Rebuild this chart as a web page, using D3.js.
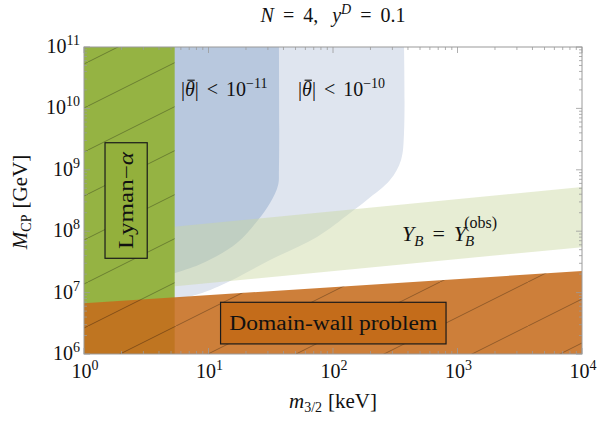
<!DOCTYPE html>
<html>
<head>
<meta charset="utf-8">
<script src="https://cdn.jsdelivr.net/npm/d3@7"></script>
<style>
  body { margin: 0; background: #fff; }
  text { font-family: "Liberation Serif", "DejaVu Serif", serif; fill: #111; }
</style>
</head>
<body>
<script>
// axes
var xDomain = [1, 1e4];
var yDomain = [1e6, 1e11];
var xExponents = [0, 1, 2, 3, 4];
var yExponents = [6, 7, 8, 9, 10, 11];

// Lyman-alpha bound on m_3/2 [keV]
var lymanCut = 5.35;

// domain-wall problem: upper edge of the excluded band [m, M]
var domainWallTop = [[1, 6.7e6], [1e4, 2.25e7]];

// Y_B = Y_B(obs) band, upper and lower edges
var ybUpper = [[1, 8.5e7], [1e4, 5.25e8]];
var ybLower = [[1, 9.1e6], [1e4, 5.5e7]];

// |theta| < 1e-11 boundary (right / lower edge)
var theta11 = [[36.8, 1e11], [36.8, 1e9], [36.2, 5.6e8], [31.2, 2.88e8], [25, 1.52e8],
               [16.9, 6.4e7], [9.03, 3.03e7], [5.38, 2.08e7], [1, 7.6e6]];
// |theta| < 1e-10 boundary
var theta10 = [[372, 1e11], [372, 4e9], [352, 1.45e9], [287, 6.8e8], [187, 3.22e8],
               [137, 1.98e8], [74.4, 8.05e7], [31.2, 3.4e7], [14.9, 1.55e7],
               [8.1, 9.3e6], [1, 3.6e6]];

var width = 599, height = 429;
var svg = d3.select("body").append("svg")
    .attr("width", width)
    .attr("height", height);

var x = d3.scaleLog().domain(xDomain).range([84, 582]);
var y = d3.scaleLog().domain(yDomain).range([354, 47]);

var defs = svg.append("defs");
defs.append("clipPath").attr("id", "plotclip")
  .append("rect")
    .attr("x", x(xDomain[0])).attr("y", y(yDomain[1]))
    .attr("width", x(xDomain[1]) - x(xDomain[0]))
    .attr("height", y(yDomain[0]) - y(yDomain[1]));

// hatch lines for excluded regions
var pat = defs.append("pattern")
    .attr("id", "hatch")
    .attr("patternUnits", "userSpaceOnUse")
    .attr("x", 0).attr("y", 18)
    .attr("width", 88).attr("height", 44);
pat.append("line")
    .attr("x1", -2).attr("y1", 45).attr("x2", 90).attr("y2", -1)
    .style("stroke", "rgba(0,0,0,0.36)")
    .style("stroke-width", 0.8);

var plot = svg.append("g").attr("clip-path", "url(#plotclip)");

var line = d3.line()
    .x(function(d) { return x(d[0]); })
    .y(function(d) { return y(d[1]); });
var curve = d3.line()
    .curve(d3.curveCatmullRom)
    .x(function(d) { return x(d[0]); })
    .y(function(d) { return y(d[1]); });

// closes a boundary curve into the top-left corner
function regionPath(pts) {
    var p = curve(pts);
    return p + "L" + x(xDomain[0]) + "," + y(yDomain[0]) +
        "L" + x(xDomain[0]) + "," + y(yDomain[1]) + "Z";
}

plot.append("path")
    .attr("d", regionPath(theta10))
    .style("fill", "#dfe5ef");
plot.append("path")
    .attr("d", regionPath(theta11))
    .style("fill", "#b8c8de");

// Y_B band
plot.append("path")
    .attr("d", line(ybUpper.concat(ybLower.slice().reverse())) + "Z")
    .style("fill", "#c9d6a0")
    .style("fill-opacity", 0.45);

// Lyman-alpha
plot.append("rect")
    .attr("x", x(xDomain[0]))
    .attr("y", y(yDomain[1]))
    .attr("width", x(lymanCut) - x(xDomain[0]))
    .attr("height", y(yDomain[0]) - y(yDomain[1]))
    .style("fill", "#95b343");
plot.append("rect")
    .attr("x", x(xDomain[0]))
    .attr("y", y(yDomain[1]))
    .attr("width", x(lymanCut) - x(xDomain[0]))
    .attr("height", y(yDomain[0]) - y(yDomain[1]))
    .style("fill", "url(#hatch)");

// domain-wall
var dwPts = domainWallTop.concat([[xDomain[1], yDomain[0]], [xDomain[0], yDomain[0]]]);
plot.append("path")
    .attr("d", line(dwPts) + "Z")
    .style("fill", "#c66c1d")
    .style("fill-opacity", 0.87);
plot.append("path")
    .attr("d", line(dwPts) + "Z")
    .style("fill", "url(#hatch)");

// frame and ticks
var frameColor = "#9a9a9a";
svg.append("rect")
    .attr("x", x(xDomain[0])).attr("y", y(yDomain[1]))
    .attr("width", x(xDomain[1]) - x(xDomain[0]))
    .attr("height", y(yDomain[0]) - y(yDomain[1]))
    .style("fill", "none")
    .style("stroke", frameColor)
    .style("stroke-width", 1);

var xMajor = xExponents.map(function(e) { return Math.pow(10, e); });
var yMajor = yExponents.map(function(e) { return Math.pow(10, e); });
function minors(exps) {
    var out = [];
    exps.slice(0, -1).forEach(function(e) {
        d3.range(2, 10).forEach(function(k) { out.push(k * Math.pow(10, e)); });
    });
    return out;
}
var xMinor = minors(xExponents), yMinor = minors(yExponents);

var ticks = svg.append("g").style("stroke", frameColor).style("stroke-width", 0.8);
function xTicks(vals, len) {
    vals.forEach(function(v) {
        ticks.append("line").attr("x1", x(v)).attr("x2", x(v))
            .attr("y1", y(yDomain[0])).attr("y2", y(yDomain[0]) - len);
        ticks.append("line").attr("x1", x(v)).attr("x2", x(v))
            .attr("y1", y(yDomain[1])).attr("y2", y(yDomain[1]) + len);
    });
}
function yTicks(vals, len) {
    vals.forEach(function(v) {
        ticks.append("line").attr("y1", y(v)).attr("y2", y(v))
            .attr("x1", x(xDomain[0])).attr("x2", x(xDomain[0]) + len);
        ticks.append("line").attr("y1", y(v)).attr("y2", y(v))
            .attr("x1", x(xDomain[1])).attr("x2", x(xDomain[1]) - len);
    });
}
xTicks(xMajor, 6); xTicks(xMinor, 3);
yTicks(yMajor, 6); yTicks(yMinor, 3);

// tick labels
function powLabel(sel, e) {
    sel.append("tspan").text("10");
    sel.append("tspan").attr("dy", -8).style("font-size", "14px").text(e);
}
xExponents.forEach(function(e) {
    var t = svg.append("text")
        .attr("x", x(Math.pow(10, e)) + 1)
        .attr("y", 378)
        .attr("text-anchor", "middle")
        .style("font-size", "20px");
    powLabel(t, e);
});
yExponents.forEach(function(e) {
    var t = svg.append("text")
        .attr("x", 80)
        .attr("y", y(Math.pow(10, e)) + 6)
        .attr("text-anchor", "end")
        .style("font-size", "20px");
    powLabel(t, e);
});

// title
var title = svg.append("text")
    .attr("x", 333).attr("y", 22)
    .attr("text-anchor", "middle")
    .style("font-size", "20px");
title.append("tspan").style("font-style", "italic").text("N");
title.append("tspan").attr("dx", 9).text("=");
title.append("tspan").attr("dx", 9).text("4,");
title.append("tspan").attr("dx", 14).style("font-style", "italic").text("y");
title.append("tspan").attr("dy", -8).style("font-size", "14px").style("font-style", "italic").text("D");
title.append("tspan").attr("dy", 8).attr("dx", 9).text("=");
title.append("tspan").attr("dx", 9).text("0.1");

// axis labels
var xl = svg.append("text")
    .attr("x", 333).attr("y", 408)
    .attr("text-anchor", "middle")
    .style("font-size", "21px");
xl.append("tspan").style("font-style", "italic").text("m");
xl.append("tspan").attr("dy", 4).style("font-size", "14px").text("3/2");
xl.append("tspan").attr("dy", -4).attr("dx", 6).text("[keV]");

var yl = svg.append("text")
    .attr("transform", "translate(27,202) rotate(-90)")
    .attr("text-anchor", "middle")
    .style("font-size", "21px");
yl.append("tspan").style("font-style", "italic").text("M");
yl.append("tspan").attr("dy", 4).style("font-size", "14px").text("CP");
yl.append("tspan").attr("dy", -4).attr("dx", 6).text("[GeV]");

// region annotations
function thetaLabel(xv, yv, e) {
    var t = svg.append("text")
        .attr("x", x(xv)).attr("y", y(yv))
        .style("font-size", "20px");
    t.append("tspan").text("|");
    t.append("tspan").style("font-style", "italic").text("\u03B8");
    t.append("tspan").text("|");
    t.append("tspan").attr("dx", 8).text("<");
    t.append("tspan").attr("dx", 8).text("10");
    t.append("tspan").attr("dy", -8).style("font-size", "14px").text("\u2212" + e);
    // bar over theta
    var b = t.node().getExtentOfChar(1);
    svg.append("line")
        .attr("x1", b.x + 2.5).attr("x2", b.x + b.width)
        .attr("y1", b.y + 2).attr("y2", b.y + 2)
        .style("stroke", "#111")
        .style("stroke-width", 1.1);
}
thetaLabel(6.0, 1.58e10, 11);
thetaLabel(52.4, 1.58e10, 10);

var yb = svg.append("text")
    .attr("x", x(358)).attr("y", y(6.9e7))
    .style("font-size", "22px");
yb.append("tspan").style("font-style", "italic").text("Y");
yb.append("tspan").attr("dy", 5).style("font-size", "15px").style("font-style", "italic").text("B");
yb.append("tspan").attr("dy", -5).attr("dx", 9).text("=");
yb.append("tspan").attr("dx", 9).style("font-style", "italic").text("Y");
yb.append("tspan").attr("dy", 5).attr("dx", -1).style("font-size", "15px").style("font-style", "italic").text("B");
yb.append("tspan").attr("dy", -18).attr("dx", -10).style("font-size", "16px").text("(obs)");

// boxed labels
var lyBox = { x0: 1.475, x1: 3.22, y0: 3.62e7, y1: 2.76e9 };
svg.append("rect")
    .attr("x", x(lyBox.x0)).attr("y", y(lyBox.y1))
    .attr("width", x(lyBox.x1) - x(lyBox.x0))
    .attr("height", y(lyBox.y0) - y(lyBox.y1))
    .style("fill", "#93b03c")
    .style("stroke", "#1a1a1a")
    .style("stroke-width", 1.2);
var lyCx = (x(lyBox.x0) + x(lyBox.x1)) / 2, lyCy = (y(lyBox.y0) + y(lyBox.y1)) / 2;
var lyText = svg.append("text")
    .attr("transform", "translate(" + (lyCx + 7) + "," + lyCy + ") rotate(-90)")
    .attr("text-anchor", "middle")
    .attr("textLength", 97)
    .attr("lengthAdjust", "spacingAndGlyphs")
    .style("font-size", "20px");
lyText.append("tspan").text("Lyman\u2212");
lyText.append("tspan").style("font-style", "italic").text("\u03B1");

var dwBox = { x0: 12.5, x1: 809, y0: 1.46e6, y1: 6.95e6 };
svg.append("rect")
    .attr("x", x(dwBox.x0)).attr("y", y(dwBox.y1))
    .attr("width", x(dwBox.x1) - x(dwBox.x0))
    .attr("height", y(dwBox.y0) - y(dwBox.y1))
    .style("fill", "#c46c1a")
    .style("stroke", "#1a1a1a")
    .style("stroke-width", 1.2);
svg.append("text")
    .attr("x", (x(dwBox.x0) + x(dwBox.x1)) / 2)
    .attr("y", (y(dwBox.y0) + y(dwBox.y1)) / 2 + 7)
    .attr("text-anchor", "middle")
    .attr("textLength", 208)
    .attr("lengthAdjust", "spacingAndGlyphs")
    .style("font-size", "20px")
    .text("Domain-wall problem");
</script>
</body>
</html>
